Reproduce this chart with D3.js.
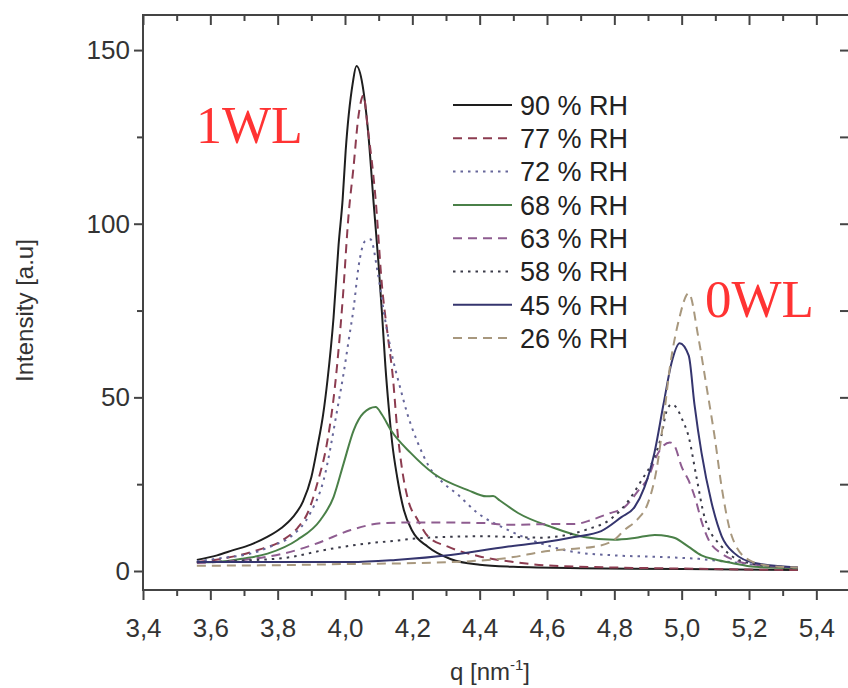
<!DOCTYPE html>
<html><head><meta charset="utf-8">
<script src="https://cdn.jsdelivr.net/npm/d3@7"></script>
<style>body{margin:0;background:#fff}svg{display:block}</style></head>
<body><svg id="c" width="848" height="688"></svg>
<script>
// ---------- data ----------
const xMajorTicks = [3.4,3.6,3.8,4.0,4.2,4.4,4.6,4.8,5.0,5.2,5.4];
const xTickLabels = ["3,4","3,6","3,8","4,0","4,2","4,4","4,6","4,8","5,0","5,2","5,4"];
const xMinorTicks = [3.5,3.7,3.9,4.1,4.3,4.5,4.7,4.9,5.1,5.3];
const yMajorTicks = [0,50,100,150];
const yMinorTicks = [25,75,125];
const seriesNames = ["90 % RH","77 % RH","72 % RH","68 % RH","63 % RH","58 % RH","45 % RH","26 % RH"];
const peakLabels = ["1WL","0WL"];

const rh90 = [[3.56,3.2],[3.62,4.5],[3.668,6],[3.72,7.6],[3.769,9.8],[3.81,12.3],[3.845,15.5],[3.875,20],[3.9,27],[3.918,35.7],[3.935,45],[3.948,55],[3.966,73],[3.981,94],[3.993,107],[4.002,121],[4.023,140.5],[4.034,145.4],[4.052,140],[4.07,125],[4.085,106],[4.1,88],[4.11,74],[4.12,59],[4.13,47],[4.14,37],[4.155,27],[4.175,17.5],[4.2,11.5],[4.246,7],[4.315,3.4],[4.4,1.8],[4.5,1.2],[4.7,0.8],[5.0,0.6],[5.345,0.3]];
const rh77 = [[3.56,2.6],[3.65,3.8],[3.74,6],[3.817,9],[3.86,12.5],[3.889,16.7],[3.92,26],[3.945,36],[3.97,53],[3.993,78],[4.011,103],[4.025,116],[4.04,131],[4.055,137],[4.067,128],[4.091,107],[4.11,82],[4.128,67],[4.142,56],[4.155,41],[4.17,29],[4.186,21],[4.216,14.7],[4.246,10],[4.306,7],[4.4,4.2],[4.5,2.6],[4.6,1.6],[4.8,1],[5.0,0.7],[5.2,0.4],[5.345,0.3]];
const rh72 = [[3.56,2.8],[3.64,3.8],[3.719,5],[3.79,7.5],[3.838,9.8],[3.897,16.7],[3.936,26],[3.978,47],[3.996,57],[4.011,66.5],[4.026,76],[4.04,87.5],[4.06,95],[4.076,95.5],[4.097,86],[4.118,73],[4.14,62],[4.166,52],[4.186,45],[4.216,37],[4.25,30],[4.29,25.5],[4.335,22],[4.39,17],[4.48,12],[4.58,8],[4.68,5.5],[4.8,4.5],[4.95,4],[5.05,3.5],[5.15,2.5],[5.25,1.5],[5.345,1]];
const rh68 = [[3.56,2.5],[3.62,2.6],[3.7,3.6],[3.77,5],[3.859,9],[3.927,14.7],[3.966,21.3],[3.996,31],[4.026,40.6],[4.055,45.5],[4.091,47.2],[4.11,45],[4.136,40.6],[4.195,34],[4.264,28],[4.365,23.3],[4.42,21.5],[4.44,21.6],[4.46,20.3],[4.514,16.7],[4.612,12.7],[4.71,9.8],[4.8,9],[4.86,9.5],[4.92,10.4],[4.96,10],[4.98,9.5],[5.02,7],[5.059,4.5],[5.1,3.3],[5.149,2.3],[5.217,1.2],[5.345,0.8]];
const rh63 = [[3.56,2.3],[3.7,3.2],[3.817,5],[3.918,8],[4.017,11.8],[4.115,13.8],[4.216,14],[4.413,13.8],[4.484,13.3],[4.612,13.5],[4.681,13.5],[4.732,14.7],[4.782,16.5],[4.83,18.4],[4.87,23],[4.901,27],[4.925,33],[4.945,36],[4.965,37],[4.979,36],[5.0,30],[5.021,26],[5.04,21],[5.06,14],[5.08,9],[5.119,5],[5.16,3],[5.22,1.8],[5.345,1]];
const rh58 = [[3.56,2.5],[3.7,3],[3.838,4],[3.936,6],[4.055,7.8],[4.157,8.8],[4.216,9.4],[4.3,9.8],[4.413,10],[4.5,9.8],[4.583,9.6],[4.65,10.2],[4.72,12],[4.79,15],[4.84,20],[4.88,26],[4.92,33],[4.94,39],[4.955,46],[4.97,48],[4.985,47],[5.0,44],[5.021,38.6],[5.044,27],[5.068,15.5],[5.119,7],[5.199,2.3],[5.345,0.8]];
const rh45 = [[3.56,2.6],[3.8,2.6],[4.017,2.6],[4.15,3.2],[4.314,4.6],[4.48,7],[4.6,8.4],[4.681,9.8],[4.761,11.5],[4.821,15.5],[4.86,18.4],[4.889,24],[4.919,34],[4.946,48],[4.97,60],[4.994,65.6],[5.021,62],[5.038,48],[5.059,34],[5.089,19.6],[5.119,10],[5.158,5],[5.217,2.3],[5.345,1]];
const rh26 = [[3.56,1.5],[3.817,1.7],[4.0,2],[4.216,2.3],[4.4,3],[4.5,4],[4.583,5.5],[4.65,6.2],[4.74,7],[4.8,9],[4.83,11.8],[4.87,15],[4.9,19.6],[4.925,29],[4.946,43.5],[4.964,58],[4.991,72],[5.021,80],[5.05,67],[5.074,53],[5.098,38.6],[5.119,24],[5.149,10],[5.199,3.2],[5.26,1.5],[5.345,1]];

const seriesData = [rh90, rh77, rh72, rh68, rh63, rh58, rh45, rh26];
const seriesColors = ["#1e1e1e","#8c3c50","#66669a","#4a8048","#8e5c90","#3a3a48","#35356e","#a8987e"];
const seriesDash = ["none","9,6","2.5,5","none","9,6","2.5,5","none","9,6"];

// ---------- chart ----------
const svg = d3.select("#c");
const L = 143, R = 850, T = 15, B = 590;
const x = d3.scaleLinear().domain([3.4, 5.5]).range([L, R]);
const y = d3.scaleLinear().domain([-5.47, 160.1]).range([B, T]);
const axisColor = "#444";
const font = "'Liberation Sans', Arial, sans-serif";

const line = d3.line().x(d => x(d[0])).y(d => y(d[1])).curve(d3.curveMonotoneX);
const plot = svg.append("g");
seriesData.forEach((s, i) => {
  plot.append("path").datum(s).attr("d", line)
    .attr("fill", "none").attr("stroke", seriesColors[i])
    .attr("stroke-width", 2).attr("stroke-dasharray", seriesDash[i])
    .attr("stroke-linejoin", "round");
});

function styleAxis(g) {
  g.select(".domain").remove();
  g.selectAll("line").attr("stroke", axisColor).attr("stroke-width", 2);
  g.selectAll("text").attr("font-family", font).attr("font-size", 26).attr("fill", "#333");
}
// bottom
svg.append("g").attr("transform", `translate(0,${B})`)
  .call(d3.axisBottom(x).tickValues(xMajorTicks).tickSize(10).tickPadding(19)
    .tickFormat((d, i) => xTickLabels[i])).call(styleAxis);
svg.append("g").attr("transform", `translate(0,${B})`)
  .call(d3.axisBottom(x).tickValues(xMinorTicks).tickSize(6).tickFormat("")).call(styleAxis);
// top (inward)
svg.append("g").attr("transform", `translate(0,${T})`)
  .call(d3.axisBottom(x).tickValues(xMajorTicks).tickSize(10).tickFormat("")).call(styleAxis);
svg.append("g").attr("transform", `translate(0,${T})`)
  .call(d3.axisBottom(x).tickValues(xMinorTicks).tickSize(6).tickFormat("")).call(styleAxis);
// left
svg.append("g").attr("transform", `translate(${L},0)`)
  .call(d3.axisLeft(y).tickValues(yMajorTicks).tickSize(9).tickPadding(4)).call(styleAxis);
svg.append("g").attr("transform", `translate(${L},0)`)
  .call(d3.axisLeft(y).tickValues(yMinorTicks).tickSize(6).tickFormat("")).call(styleAxis);
// right (inward)
svg.append("g").attr("transform", `translate(${R},0)`)
  .call(d3.axisLeft(y).tickValues(yMajorTicks.concat(yMinorTicks)).tickSize(10).tickFormat("")).call(styleAxis);

// frame
svg.append("rect").attr("x", L).attr("y", T).attr("width", R - L).attr("height", B - T)
  .attr("fill", "none").attr("stroke", axisColor).attr("stroke-width", 2);

// axis titles
svg.append("text").attr("transform", `translate(33,${(y(0)+y(150))/2}) rotate(-90)`)
  .attr("text-anchor", "middle").attr("font-family", font).attr("font-size", 24).attr("fill", "#333")
  .text("Intensity [a.u]");
const xt = svg.append("text").attr("x", 490).attr("y", 680).attr("text-anchor", "middle")
  .attr("font-family", font).attr("font-size", 24).attr("fill", "#333");
xt.append("tspan").text("q [nm");
xt.append("tspan").attr("dy", -10).attr("font-size", 15).text("-1");
xt.append("tspan").attr("dy", 10).text("]");

// legend
const leg = svg.append("g");
seriesNames.forEach((n, i) => {
  const cy = 105 + i * 33.3;
  leg.append("line").attr("x1", 453).attr("x2", 512).attr("y1", cy).attr("y2", cy)
    .attr("stroke", seriesColors[i]).attr("stroke-width", 2).attr("stroke-dasharray", seriesDash[i]);
  leg.append("text").attr("x", 520).attr("y", cy).attr("dy", "0.36em")
    .attr("font-family", font).attr("font-size", 27).attr("fill", "#222").text(n);
});

// peak labels
const serif = "'Liberation Serif', 'Times New Roman', serif";
svg.append("text").attr("x", 196).attr("y", 143).attr("font-family", serif).attr("font-size", 52)
  .attr("fill", "#f33").text(peakLabels[0]);
svg.append("text").attr("x", 705).attr("y", 317).attr("font-family", serif).attr("font-size", 53)
  .attr("fill", "#f33").text(peakLabels[1]);
</script></body></html>
